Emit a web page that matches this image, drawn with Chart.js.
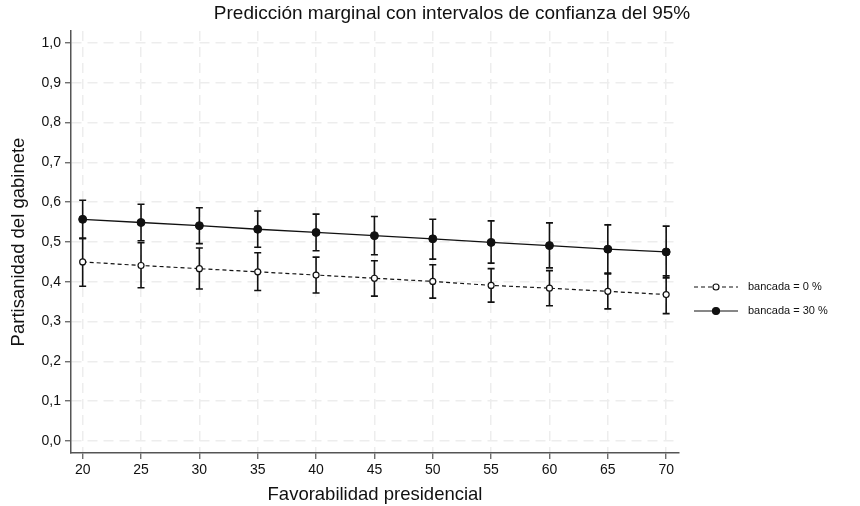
<!DOCTYPE html>
<html lang="es">
<head>
  <meta charset="UTF-8" />
  <title>Predicción marginal</title>
  <script src="https://cdn.jsdelivr.net/npm/chart.js"></script>
  <style>
    body { margin: 0; background: #fff; }
    #wrap { width: 860px; height: 506px; }
  </style>
</head>
<body>
  <div id="wrap"><canvas id="chart" width="860" height="506"></canvas></div>
  <script>
    // valores
    const favorabilidad = [20, 25, 30, 35, 40, 45, 50, 55, 60, 65, 70];
    const pred0 = [0.450, 0.441, 0.433, 0.425, 0.417, 0.409, 0.401, 0.391, 0.384, 0.376, 0.368];
    const lo0   = [0.389, 0.385, 0.382, 0.378, 0.372, 0.364, 0.359, 0.349, 0.340, 0.332, 0.320];
    const hi0   = [0.509, 0.498, 0.485, 0.473, 0.462, 0.453, 0.443, 0.433, 0.428, 0.420, 0.415];
    const pred30 = [0.557, 0.549, 0.541, 0.532, 0.524, 0.516, 0.508, 0.499, 0.491, 0.482, 0.475];
    const lo30   = [0.509, 0.503, 0.496, 0.487, 0.478, 0.468, 0.457, 0.447, 0.435, 0.422, 0.410];
    const hi30   = [0.605, 0.595, 0.586, 0.578, 0.570, 0.564, 0.557, 0.553, 0.548, 0.543, 0.540];
    const yTicks = [0, 0.1, 0.2, 0.3, 0.4, 0.5, 0.6, 0.7, 0.8, 0.9, 1.0];
    const xTicks = [20, 25, 30, 35, 40, 45, 50, 55, 60, 65, 70];
    const legendLabels = ['bancada = 0 %', 'bancada = 30 %'];
    const titulo = 'Predicción marginal con intervalos de confianza del 95%';

    const FONT = "'Liberation Sans', Arial, sans-serif";
    const toPts = (ys) => favorabilidad.map((x, i) => ({ x: x, y: ys[i] }));

    // barras de error (rcap)
    const errorBars = {
      id: 'errorBars',
      beforeDatasetsDraw(chart) {
        const { ctx, scales: { x, y } } = chart;
        const sets = [[lo0, hi0], [lo30, hi30]];
        ctx.save();
        ctx.strokeStyle = '#111';
        ctx.lineWidth = 1.6;
        sets.forEach(([lo, hi]) => {
          favorabilidad.forEach((v, i) => {
            const px = x.getPixelForValue(v);
            const y1 = y.getPixelForValue(lo[i]);
            const y2 = y.getPixelForValue(hi[i]);
            ctx.beginPath();
            ctx.moveTo(px, y1); ctx.lineTo(px, y2);
            ctx.moveTo(px - 3.5, y1); ctx.lineTo(px + 3.5, y1);
            ctx.moveTo(px - 3.5, y2); ctx.lineTo(px + 3.5, y2);
            ctx.stroke();
          });
        });
        ctx.restore();
      }
    };

    // título y leyenda
    const extras = {
      id: 'extras',
      afterDraw(chart) {
        const ctx = chart.ctx;
        ctx.save();
        ctx.fillStyle = '#111';
        ctx.font = '19px ' + FONT;
        ctx.textAlign = 'center';
        ctx.textBaseline = 'middle';
        ctx.fillText(titulo, 452, 14);

        const styles = [
          { dash: [4, 3], fill: '#fff', r: 3 },
          { dash: [], fill: '#111', r: 3.5 }
        ];
        ctx.font = '11px ' + FONT;
        ctx.textAlign = 'left';
        legendLabels.forEach((lab, i) => {
          const yy = 287 + i * 24;
          const st = styles[i];
          ctx.strokeStyle = '#111';
          ctx.lineWidth = 1.2;
          ctx.setLineDash(st.dash);
          ctx.beginPath();
          ctx.moveTo(694, yy); ctx.lineTo(738, yy);
          ctx.stroke();
          ctx.setLineDash([]);
          ctx.beginPath();
          ctx.arc(716, yy, st.r, 0, Math.PI * 2);
          ctx.fillStyle = st.fill;
          ctx.fill();
          ctx.stroke();
          ctx.fillStyle = '#111';
          ctx.fillText(lab, 748, yy);
        });
        ctx.restore();
      }
    };

    const gridStyle = {
      color: '#ededed',
      lineWidth: 1.5,
      tickColor: '#555',
      tickLength: 6,
      tickWidth: 1.2
    };

    new Chart(document.getElementById('chart'), {
      type: 'line',
      data: {
        datasets: [
          {
            label: legendLabels[0],
            data: toPts(pred0),
            borderColor: '#111',
            borderWidth: 1.2,
            borderDash: [4, 3],
            pointRadius: 3,
            pointBackgroundColor: '#fff',
            pointBorderColor: '#111',
            pointBorderWidth: 1.2,
            tension: 0
          },
          {
            label: legendLabels[1],
            data: toPts(pred30),
            borderColor: '#111',
            borderWidth: 1.3,
            pointRadius: 4,
            pointBackgroundColor: '#111',
            pointBorderColor: '#111',
            pointBorderWidth: 1,
            tension: 0
          }
        ]
      },
      options: {
        responsive: false,
        animation: false,
        layout: { padding: { top: 31, right: 181, left: 0, bottom: 0 } },
        plugins: {
          legend: { display: false },
          title: { display: false },
          tooltip: { enabled: false }
        },
        scales: {
          x: {
            type: 'linear',
            min: 19,
            max: 71.1,
            afterBuildTicks: (s) => { s.ticks = xTicks.map(v => ({ value: v })); },
            afterFit: (s) => { s.height = 53; },
            grid: gridStyle,
            border: { color: '#555', width: 1.5, dash: [10, 6] },
            ticks: { color: '#111', font: { size: 14, family: FONT }, padding: 3 },
            title: {
              display: true,
              text: 'Favorabilidad presidencial',
              color: '#111',
              font: { size: 18.5, family: FONT },
              padding: { top: 4, bottom: 0 }
            }
          },
          y: {
            min: -0.03,
            max: 1.03,
            afterBuildTicks: (s) => { s.ticks = yTicks.map(v => ({ value: v })); },
            afterFit: (s) => { s.width = 71; },
            grid: gridStyle,
            border: { color: '#555', width: 1.5, dash: [10, 6] },
            ticks: {
              color: '#111',
              font: { size: 14, family: FONT },
              padding: 4,
              callback: (v) => v.toFixed(1).replace('.', ',')
            },
            title: {
              display: true,
              text: 'Partisanidad del gabinete',
              color: '#111',
              font: { size: 18.5, family: FONT },
              padding: { top: 8, bottom: 0 }
            }
          }
        }
      },
      plugins: [errorBars, extras]
    });
  </script>
</body>
</html>
